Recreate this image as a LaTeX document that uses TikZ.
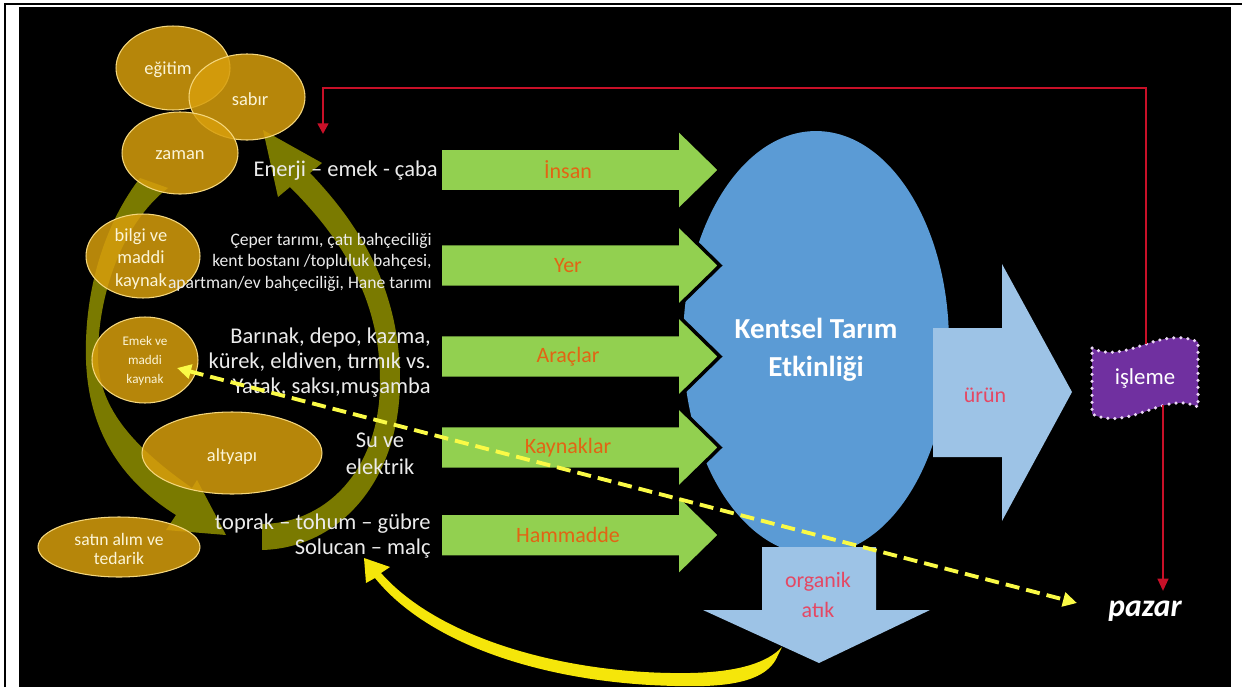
\documentclass[tikz,border=0pt]{standalone}
\usepackage{fontspec}
\setmainfont{Carlito}
\usetikzlibrary{shapes.geometric,arrows.meta}
\definecolor{goldfill}{RGB}{215,158,12}
\definecolor{goldline}{RGB}{245,215,125}
\definecolor{olivec}{RGB}{122,122,0}
\definecolor{greenc}{RGB}{146,208,80}
\definecolor{orangec}{RGB}{226,100,20}
\definecolor{bluec}{RGB}{91,155,213}
\definecolor{lblue}{RGB}{157,195,230}
\definecolor{pinkred}{RGB}{228,72,100}
\definecolor{purplec}{RGB}{112,48,160}
\definecolor{lavc}{RGB}{235,215,245}
\definecolor{redc}{RGB}{200,16,40}
\definecolor{yellowc}{RGB}{250,250,70}
\definecolor{yellowf}{RGB}{245,230,10}
\definecolor{cream}{RGB}{252,245,215}
\definecolor{greyw}{RGB}{235,235,235}
\tikzset{
  goldell/.style={ellipse, draw=goldline, line width=0.6pt, fill=goldfill, fill opacity=0.85, inner sep=0pt},
  gtxt/.style={text=cream, align=center, inner sep=0pt, font=\fontsize{10.5}{13}\selectfont},
  ltext/.style={text=greyw, inner sep=0pt, font=\fontsize{12.8}{14.2}\selectfont},
  stext/.style={text=greyw, inner sep=0pt, font=\fontsize{10}{12.2}\selectfont},
  greenarrow/.style={fill=greenc, draw=black, line width=2pt, line join=miter},
  glabel/.style={text=orangec, font=\fontsize{12.5}{14}\selectfont},
  lbarrow/.style={fill=lblue},
  plabel/.style={text=pinkred, align=center, font=\fontsize{12.5}{17}\selectfont},
  oliveband/.style={fill=olivec},
  redline/.style={draw=redc, line width=1.4pt},
  ydash/.style={draw=yellowc, line width=2.2pt, dash pattern=on 8pt off 4pt},
}
\newcommand{\garrow}[3]{%
  \filldraw[greenarrow] (440,#1-22) -- (677,#1-22) -- (677,#1-42) -- (720,#1) -- (677,#1+42) -- (677,#1+22) -- (440,#1+22) -- cycle;
  \node[glabel] (#2) at (568,#1) {#3};}
\begin{document}
\begin{tikzpicture}[x=0.02cm,y=-0.02cm]
% page and frame
\fill[white] (0,0) rectangle (1242,687);
\useasboundingbox (0,0) rectangle (1242,687);
\draw[black, line width=1.2pt] (5,687) -- (5,4) -- (1242,4);
\fill[black] (19,7) rectangle (1231,687);

% olive cycle arrows
\fill[oliveband] (262,550) .. controls (340,548) and (400,480) .. (400,380)
  .. controls (400,290) and (360,225) .. (310,173) -- (322,163) -- (263,130) -- (278,197) -- (290,187)
  .. controls (338,235) and (380,295) .. (380,380) .. controls (381,465) and (330,523) .. (262,524) -- cycle;
\fill[oliveband] (140,178) .. controls (100,230) and (84,300) .. (86,360)
  .. controls (88,420) and (112,475) .. (176,515) -- (166,530) -- (226,535) -- (197,480) -- (192,488)
  .. controls (135,448) and (100,410) .. (98,360) .. controls (97,300) and (120,225) .. (168,188) -- cycle;

% gold ellipses
\node[goldell, minimum width=2.28cm, minimum height=1.68cm] (egitimE) at (173,68) {};
\node[goldell, minimum width=2.32cm, minimum height=1.72cm] (sabirE) at (247,97) {};
\node[goldell, minimum width=2.32cm, minimum height=1.64cm] (zamanE) at (180,153) {};
\node[goldell, minimum width=2.28cm, minimum height=1.68cm] (bilgiE) at (143,256) {};
\node[goldell, minimum width=2.12cm, minimum height=1.72cm] (emekE) at (145,360) {};
\node[goldell, minimum width=3.6cm, minimum height=1.64cm] (altyapiE) at (232,453) {};
\node[goldell, minimum width=3.24cm, minimum height=1.2cm] (satinE) at (119,547) {};
\node[gtxt] (egitimL) at (168,70) {eğitim};
\node[gtxt] (sabirL) at (250,99) {sabır};
\node[gtxt] (zamanL) at (180,155) {zaman};
\node[gtxt] (bilgiL) at (141,259) {bilgi ve\\maddi\\kaynak};
\node[gtxt, font=\fontsize{7.5}{11}\selectfont] (emekL) at (145,361) {Emek ve\\maddi\\kaynak};
\node[gtxt] (altyapiL) at (232,457) {altyapı};
\node[gtxt, font=\fontsize{10}{10.5}\selectfont] (satinL) at (119,549) {satın alım ve\\tedarik};

% left texts
\node[ltext, anchor=east] (enerjiT) at (438,171) {Enerji – emek - çaba};
\node[stext, anchor=east, align=right] (yerT) at (432,262) {Çeper tarımı, çatı bahçeciliği\\kent bostanı /topluluk bahçesi,\\apartman/ev bahçeciliği, Hane tarımı};
\node[ltext, anchor=east, align=right] (aracT) at (431,363) {Barınak, depo, kazma,\\kürek, eldiven, tırmık vs.\\Yatak, saksı,muşamba};
\node[ltext, align=center, font=\fontsize{12.8}{15.5}\selectfont] (suT) at (380,454) {Su ve\\elektrik};
\node[ltext, anchor=east, align=right] (hamT) at (431,536) {toprak – tohum – gübre\\Solucan – malç};

% central ellipse
\node[ellipse, fill=bluec, minimum width=5.32cm, minimum height=8.48cm, inner sep=0pt] (kte) at (816,343) {};
\node[text=white, align=center, font=\fontsize{16.5}{21.5}\selectfont\bfseries] (kteL) at (816,350) {Kentsel Tarım\\Etkinliği};

% green input arrows
\garrow{170}{insan}{İnsan}
\garrow{265.5}{yer}{Yer}
\garrow{356.5}{araclar}{Araçlar}
\garrow{447.5}{kaynaklar}{Kaynaklar}
\garrow{535}{hammadde}{Hammadde}

% output arrows
\fill[lbarrow] (933,328) -- (1002,328) -- (1002,264) -- (1072,392) -- (1002,521) -- (1002,457) -- (933,457) -- cycle;
\node[plabel] (urun) at (985,395) {ürün};
\fill[lbarrow] (762,547) -- (876,547) -- (876,610) -- (930,610) -- (819,663) -- (703,610) -- (762,610) -- cycle;
\node[plabel] (organik) at (818,595) {organik\\atık};

% isleme wave
\filldraw[fill=purplec, draw=lavc, line width=2pt, dash pattern=on 0pt off 4pt, line cap=round]
  (1092,348) .. controls (1125,365) and (1160,325) .. (1198,342) -- (1198,407)
  .. controls (1165,390) and (1130,432) .. (1092,414) -- cycle;
\node[text=white, font=\fontsize{13}{15}\selectfont] (isleme) at (1145,378) {işleme};

% pazar
\node[text=white, font=\fontsize{18}{20}\selectfont\bfseries\itshape] (pazar) at (1145,611) {pazar};

% red connectors
\coordinate (rA) at (1146,344);
\coordinate (rB) at (1146,88);
\coordinate (rC) at (323,88);
\coordinate (rD) at (323,134);
\draw[redline, -{Triangle[length=6pt,width=6pt]}] (rA) -- (rB) -- (rC) -- (rD);
\coordinate (rE) at (1163,405);
\coordinate (rF) at (1163,591);
\draw[redline, -{Triangle[length=7pt,width=6pt]}] (rE) -- (rF);

% yellow curved arrow
\fill[yellowf] (375,578) -- (366,583) -- (364,558) -- (390,567) -- (381,573)
  .. controls (440,640) and (570,675) .. (690,673) .. controls (740,672) and (768,662) .. (782,647)
  -- (778,655) .. controls (765,688) and (710,688) .. (650,685)
  .. controls (530,678) and (425,640) .. (375,578) -- cycle;

% yellow dashed arrow
\coordinate (dashL) at (177,368);
\coordinate (dashR) at (1077,603);
\draw[ydash, {Triangle[length=8pt,width=8pt]}-{Triangle[length=8pt,width=8pt]}] (dashL) -- (dashR);
\end{tikzpicture}
\end{document}
